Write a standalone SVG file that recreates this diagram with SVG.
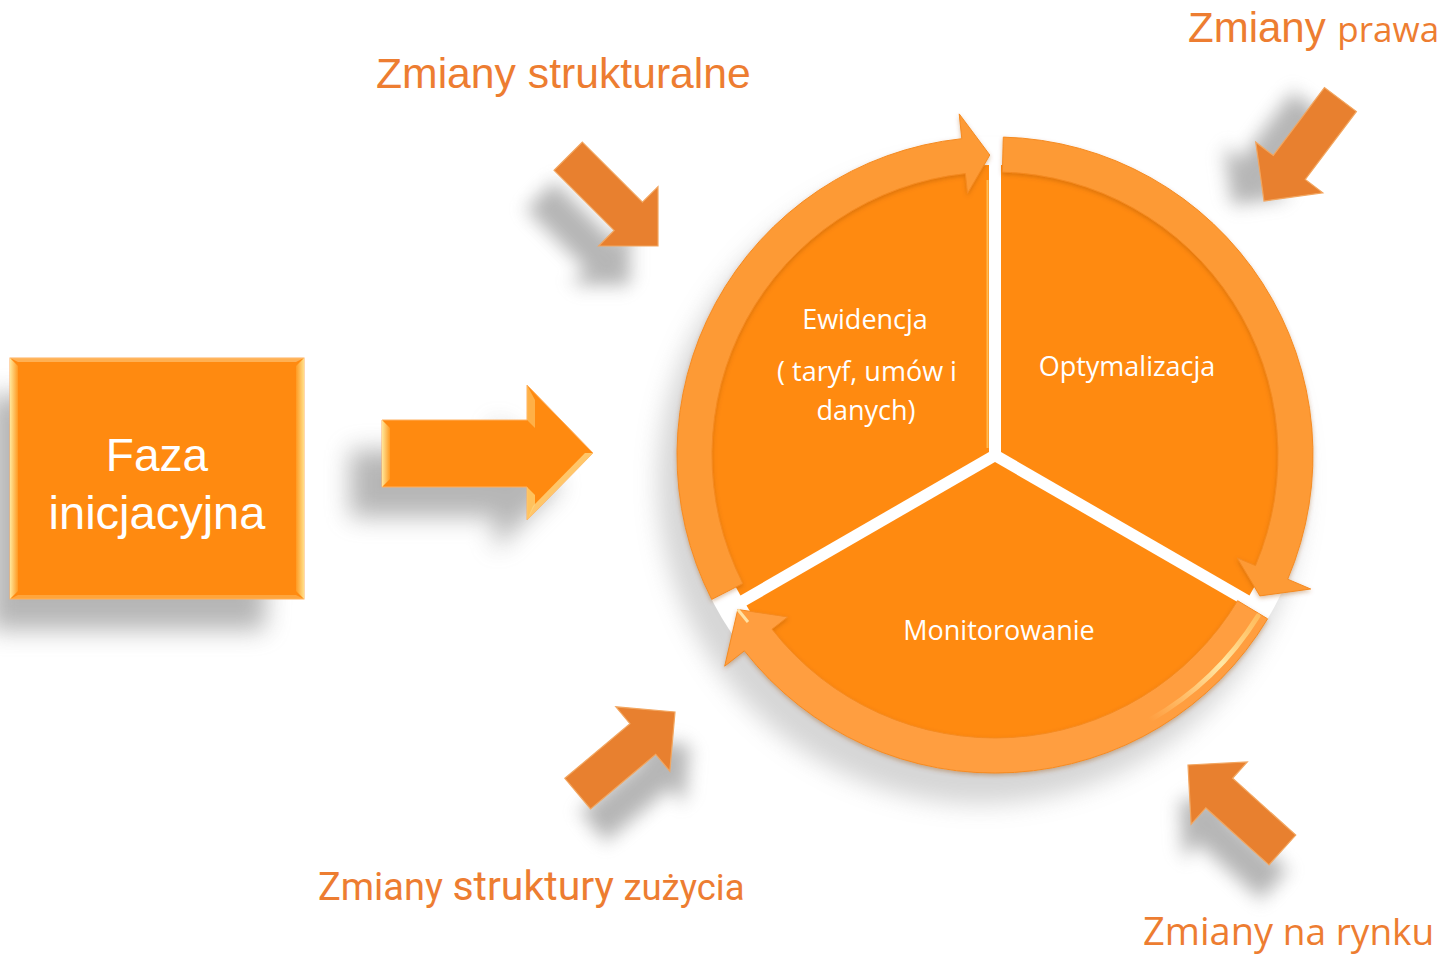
<svg xmlns="http://www.w3.org/2000/svg" width="1447" height="956" viewBox="0 0 1447 956">
<style>
.lbl{fill:#ED7D31;font-family:"Liberation Sans",Arial,sans-serif}
.cand{font-family:"Open Sans","Noto Sans",sans-serif}
.rob{font-family:Roboto,"Liberation Sans",sans-serif}
.wt{fill:#FFFFFF;font-family:"Open Sans","Noto Sans",sans-serif;font-size:27px;text-anchor:middle}
.sector{fill:#FF8A10}
.band{fill:#FD9A35;stroke:#F58A20;stroke-width:1}
.sarrow{fill:#E8802F;stroke:#F2A660;stroke-width:1.2}
.shadow{fill:#7A7A7A;opacity:0.55}
</style>
<defs>
<filter id="blur" x="-50%" y="-50%" width="200%" height="200%"><feGaussianBlur stdDeviation="12"/></filter>
<filter id="blurS" x="-50%" y="-50%" width="200%" height="200%"><feGaussianBlur stdDeviation="9"/></filter>
<filter id="ds" x="-20%" y="-20%" width="140%" height="140%"><feDropShadow dx="0" dy="2" stdDeviation="2" flood-color="#9A4A00" flood-opacity="0.35"/></filter>
<linearGradient id="bevL" x1="0" y1="0" x2="1" y2="0"><stop offset="0" stop-color="#FFE79A"/><stop offset="1" stop-color="#FF9A22"/></linearGradient>
<linearGradient id="bevR" x1="0" y1="0" x2="1" y2="0"><stop offset="0" stop-color="#FF9A22"/><stop offset="1" stop-color="#FFE08A"/></linearGradient>
<linearGradient id="glow" x1="0" y1="1" x2="1" y2="0"><stop offset="0" stop-color="#FFE9A0" stop-opacity="0"/><stop offset="0.6" stop-color="#FFF0B0" stop-opacity="0.9"/><stop offset="1" stop-color="#FFD070" stop-opacity="0.6"/></linearGradient>
<path id="sa" d="M -127 -20 L -42 -20 L -42 -42 L 0 0 L -42 42 L -42 20 L -127 20 Z"/>
</defs>

<!-- shadows -->
<g id="shadows">
<polygon class="shadow" points="-10,395 270,395 265,630 -10,630" filter="url(#blur)"/>
<polygon class="shadow" points="350,450 495,450 495,420 560,485 495,550 495,517 350,517" filter="url(#blur)"/>
<circle cx="980" cy="482" r="322" fill="#8A8A8A" opacity="0.35" filter="url(#blur)"/>
<circle cx="995" cy="455" r="318" fill="#FFFFFF"/>
<use href="#sa" class="shadow" transform="translate(630,285) rotate(45)" filter="url(#blurS)"/>
<use href="#sa" class="shadow" transform="translate(1232,205) rotate(127)" filter="url(#blurS)"/>
<use href="#sa" class="shadow" transform="translate(690,745) rotate(-40)" filter="url(#blurS)"/>
<use href="#sa" class="shadow" transform="translate(1180,800) rotate(-138)" filter="url(#blurS)"/>
</g>

<g id="faza">
<rect x="10" y="358" width="294" height="241" fill="#FF8A10" stroke="#FFB060" stroke-width="1"/>
<polygon points="10,358 18,366 18,591 10,599" fill="url(#bevL)"/>
<polygon points="304,358 296,366 296,591 304,599" fill="url(#bevR)"/>
<polygon points="10,358 304,358 296,362 18,362" fill="#FFC070" opacity="0.7"/>
<polygon points="10,599 304,599 296,595 18,595" fill="#FFB050" opacity="0.7"/>
<text x="157" y="471" text-anchor="middle" font-family="Liberation Sans, Arial, sans-serif" font-size="46" fill="#FFFFFF">Faza</text>
<text x="157" y="529" text-anchor="middle" font-family="Liberation Sans, Arial, sans-serif" font-size="47" fill="#FFFFFF">inicjacyjna</text>
</g>

<g id="connectors">
<g id="main-arrow">
<polygon points="382,420 527,420 527,385 593,453 527,520 527,487 382,487" fill="#FF8A10" stroke="#FFB060" stroke-width="1"/>
<polygon points="382,420 390,428 390,479 382,487" fill="url(#bevL)"/>
<polygon points="527,487 535,495 535,505 527,520" fill="#FFD070" opacity="0.8"/>
<polygon points="527,520 593,453 585,453 533,506" fill="#FFD580" opacity="0.8"/>
<polygon points="527,385 535,400 535,428 527,420" fill="#FFC060" opacity="0.7"/>
</g>
<use href="#sa" class="sarrow" transform="translate(658,246) rotate(45)"/>
<use href="#sa" class="sarrow" transform="translate(1264,201) rotate(127)"/>
<use href="#sa" class="sarrow" transform="translate(675,712) rotate(-40)"/>
<use href="#sa" class="sarrow" transform="translate(1188,765) rotate(-138)"/>
</g>

<g id="cycle">
<g id="ewidencja">
<path class="sector" transform="translate(-6,-3)" d="M 995 455 L 995 168 A 287 287 0 0 0 746.5 598.5 Z"/>
<line x1="987.5" y1="180" x2="987.5" y2="448" stroke="#FFD070" stroke-width="2" opacity="0.7"/>
</g>
<g id="optymalizacja">
<path class="sector" transform="translate(6,-3)" d="M 995 455 L 995 168 A 287 287 0 0 1 1243.5 598.5 Z"/>
</g>
<g id="monitorowanie">
<path class="sector" transform="translate(0,7)" d="M 995 455 L 1243.5 598.5 A 287 287 0 0 1 746.5 598.5 Z"/>
</g>
<g id="ring" filter="url(#ds)">
<path class="band" d="M 711.7 599.4 A 318 318 0 0 1 961.8 138.7 L 959.2 113.9 L 989.8 155 L 967.5 193.4 L 965.4 173.6 A 283 283 0 0 0 742.8 583.5 Z"/>
<path class="band" d="M 1003.3 137.1 A 318 318 0 0 1 1287.7 579.2 L 1310.7 589 L 1259.9 595.9 L 1237.1 557.8 L 1255.5 565.6 A 283 283 0 0 0 1002.4 172.1 Z"/>
<path class="band" style="fill:#FF9E40" d="M 1267.6 618.8 A 318 318 0 0 1 744.4 650.8 L 724.7 666.2 L 737.8 609.5 L 787.8 616.9 L 772 629.2 A 283 283 0 0 0 1237.6 600.7 Z"/>
</g>
<path d="M 1258 616 A 306 306 0 0 1 1150 720" fill="none" stroke="url(#glow)" stroke-width="5" stroke-linecap="round"/>
<path d="M 737.8 609.5 L 748 622" stroke="#FFF3C0" stroke-width="3" opacity="0.8"/>
<text class="wt" x="865" y="329">Ewidencja</text>
<text class="wt" x="867" y="381">( taryf, umów i</text>
<text class="wt" x="866" y="420">danych)</text>
<text class="wt" x="1127" y="376">Optymalizacja</text>
<text class="wt" x="999" y="640">Monitorowanie</text>
</g>

<g id="labels">
<text class="lbl" x="376" y="88" font-size="42.7">Zmiany strukturalne</text>
<text class="lbl" x="1188" y="42" font-size="42">Zmiany <tspan class="cand" font-size="35">prawa</tspan></text>
<text class="lbl rob" x="318" y="900" font-size="38">Zmiany <tspan font-size="41">struktury</tspan> <tspan font-size="36.5">zużycia</tspan></text>
<text class="lbl cand" x="1143" y="945" font-size="38">Zmiany <tspan font-size="37">na rynku</tspan></text>
</g>
</svg>
